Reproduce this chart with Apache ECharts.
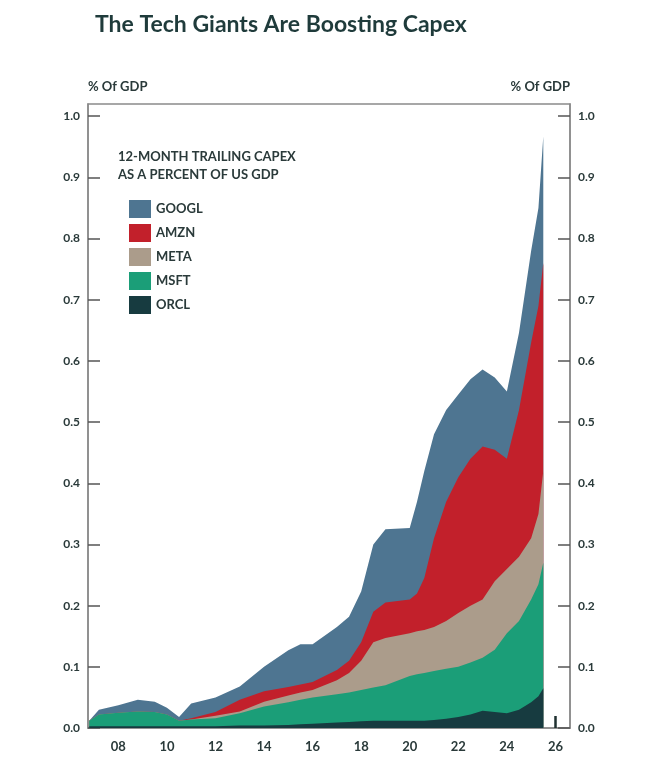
<!DOCTYPE html>
<html>
<head>
<meta charset="utf-8">
<script src="https://cdn.jsdelivr.net/npm/echarts@6/dist/echarts.min.js"></script>
<style>
  body { margin: 0; background: #fff; }
  #chart { width: 651px; height: 758px; }
</style>
</head>
<body>
<div id="chart"></div>
<script>
// x positions (years) and cumulative tops of each stacked band (% of GDP)
const years = [2006.8, 2007.2, 2008, 2008.8, 2009.5, 2010, 2010.5, 2011, 2012, 2013, 2014, 2015, 2015.5, 2016, 2017, 2017.5, 2018, 2018.5, 2019, 2020, 2020.3, 2020.6, 2021, 2021.5, 2022, 2022.5, 2023, 2023.5, 2024, 2024.5, 2025, 2025.3, 2025.5];
const googlTop = [0.012, 0.03, 0.037, 0.046, 0.043, 0.033, 0.018, 0.04, 0.05, 0.068, 0.1, 0.127, 0.137, 0.137, 0.165, 0.182, 0.223, 0.30, 0.325, 0.327, 0.37, 0.42, 0.48, 0.52, 0.545, 0.57, 0.586, 0.573, 0.55, 0.646, 0.78, 0.85, 0.967];
const amznTop = [0.012, 0.022, 0.025, 0.027, 0.026, 0.022, 0.012, 0.016, 0.026, 0.046, 0.06, 0.067, 0.071, 0.075, 0.095, 0.11, 0.14, 0.19, 0.205, 0.21, 0.22, 0.245, 0.31, 0.37, 0.41, 0.44, 0.46, 0.455, 0.44, 0.52, 0.63, 0.69, 0.76];
const metaTop = [0.012, 0.022, 0.025, 0.027, 0.026, 0.022, 0.012, 0.014, 0.020, 0.027, 0.043, 0.053, 0.058, 0.062, 0.078, 0.09, 0.11, 0.14, 0.147, 0.155, 0.158, 0.16, 0.165, 0.175, 0.188, 0.2, 0.21, 0.24, 0.26, 0.28, 0.31, 0.35, 0.42];
const msftTop = [0.012, 0.022, 0.025, 0.027, 0.026, 0.022, 0.012, 0.014, 0.016, 0.024, 0.035, 0.042, 0.046, 0.050, 0.055, 0.058, 0.062, 0.066, 0.070, 0.085, 0.088, 0.090, 0.093, 0.097, 0.100, 0.107, 0.115, 0.128, 0.155, 0.175, 0.21, 0.235, 0.27];
const orclTop = [0.003, 0.003, 0.003, 0.003, 0.003, 0.003, 0.003, 0.003, 0.003, 0.004, 0.004, 0.005, 0.006, 0.007, 0.009, 0.010, 0.011, 0.012, 0.012, 0.012, 0.012, 0.012, 0.013, 0.015, 0.018, 0.022, 0.028, 0.026, 0.024, 0.030, 0.042, 0.052, 0.065];
const names = ['GOOGL', 'AMZN', 'META', 'MSFT', 'ORCL'];
const colors = ['#4e7591', '#c2202b', '#ab9c8b', '#1b9e78', '#173b40'];
const yTicks = [0, 0.1, 0.2, 0.3, 0.4, 0.5, 0.6, 0.7, 0.8, 0.9, 1.0];
const xTicks = [2008, 2010, 2012, 2014, 2016, 2018, 2020, 2022, 2024, 2026];

const tops = [googlTop, amznTop, metaTop, msftTop, orclTop];
const ink = '#2a3a3a';
const font = 'Lato, "Open Sans", sans-serif';

const yAxisBase = (pos) => ({
  type: 'value', position: pos, min: 0, max: 1.02,
  splitLine: { show: false },
  axisLine: { show: true, lineStyle: { color: '#8a8a8a', width: 1.5 } },
  axisTick: { show: true, inside: true, length: 12, customValues: yTicks, lineStyle: { color: '#555', width: 1.5 } },
  axisLabel: { customValues: yTicks, formatter: v => v.toFixed(1), color: ink, fontSize: 12, fontWeight: 'bold', fontFamily: font, margin: 8 }
});

const chart = echarts.init(document.getElementById('chart'));
chart.setOption({
  animation: false,
  title: {
    text: 'The Tech Giants Are Boosting Capex', left: 90, top: 8,
    textStyle: { fontSize: 23, fontWeight: 'bold', color: '#1f3b3b', fontFamily: font }
  },
  grid: { left: 88, right: 81, top: 104, bottom: 30, show: true, borderColor: '#8a8a8a', borderWidth: 1.5 },
  graphic: [
    { type: 'text', left: 88, top: 80, style: { text: '% Of GDP', fill: ink, font: 'bold 13px ' + font } },
    { type: 'text', right: 81, top: 80, style: { text: '% Of GDP', fill: ink, font: 'bold 13px ' + font } },
    { type: 'text', left: 118, top: 148, style: { text: '12-MONTH TRAILING CAPEX\nAS A PERCENT OF US GDP', fill: ink, font: 'bold 13px ' + font, lineHeight: 18 } }
  ],
  legend: {
    orient: 'vertical', left: 124, top: 195, itemGap: 6, itemWidth: 22, itemHeight: 18, icon: 'rect',
    data: names,
    textStyle: { color: ink, fontSize: 13, fontWeight: 'bold', fontFamily: font }
  },
  xAxis: {
    type: 'value', min: 2006.75, max: 2026.6,
    splitLine: { show: false },
    axisLine: { lineStyle: { color: '#8a8a8a', width: 1.5 } },
    axisTick: { inside: true, length: 12, customValues: xTicks, lineStyle: { color: '#1f3030', width: 2.5 } },
    axisLabel: { customValues: xTicks, formatter: v => String(v).slice(2), color: ink, fontSize: 13, fontWeight: 'bold', fontFamily: font, margin: 12 }
  },
  yAxis: [yAxisBase('left'), yAxisBase('right')],
  series: names.map((n, i) => ({
    name: n, type: 'line', symbol: 'none', z: 2 + i,
    itemStyle: { color: colors[i] },
    lineStyle: { width: 0 },
    areaStyle: { color: colors[i], opacity: 1 },
    data: years.map((x, j) => [x, tops[i][j]])
  }))
});
</script>
</body>
</html>
